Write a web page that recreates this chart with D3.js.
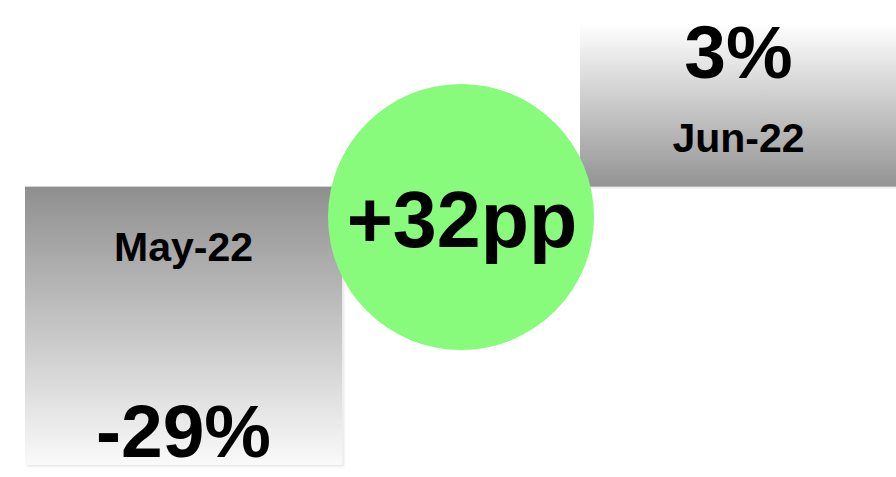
<!DOCTYPE html>
<html>
<head>
<meta charset="utf-8">
<script src="https://cdn.jsdelivr.net/npm/d3@7"></script>
<style>
  html, body { margin: 0; padding: 0; background: #ffffff; }
  svg { display: block; }
  text { font-family: "Liberation Sans", Arial, Helvetica, sans-serif; font-weight: bold; fill: #000; }
</style>
</head>
<body>
<svg id="chart" width="896" height="477"></svg>
<script>
// ---- data ----
const categories = ["May-22", "Jun-22"];
const values = [-29, 3];
const valueLabels = ["-29%", "3%"];
const deltaLabel = "+32pp";
const pivotValue = -8.8; // level where the two bars meet

const W = 896, H = 477;
const svg = d3.select("#chart");
const defs = svg.append("defs");

const x = d3.scaleBand().domain(categories).range([25, 897]).paddingInner(0.4288).paddingOuter(0);
const y = d3.scaleLinear().domain([-29, 3]).range([465, 24]);

// gradients
const gDown = defs.append("linearGradient").attr("id", "gDown").attr("x1", 0).attr("y1", 0).attr("x2", 0).attr("y2", 1);
gDown.append("stop").attr("offset", "0%").attr("stop-color", "#8f8f8f");
gDown.append("stop").attr("offset", "100%").attr("stop-color", "#fafafa");
const gUp = defs.append("linearGradient").attr("id", "gUp").attr("x1", 0).attr("y1", 0).attr("x2", 0).attr("y2", 1);
gUp.append("stop").attr("offset", "0%").attr("stop-color", "#ffffff");
gUp.append("stop").attr("offset", "100%").attr("stop-color", "#939393");

const shadow = defs.append("filter").attr("id", "sh").attr("x", "-5%").attr("y", "-5%").attr("width", "115%").attr("height", "115%");
shadow.append("feDropShadow").attr("dx", 2).attr("dy", 1.5).attr("stdDeviation", 0.8)
  .attr("flood-color", "#000").attr("flood-opacity", 0.1);

const bars = categories.map((c, i) => ({ c, v: values[i], label: valueLabels[i] }));

svg.selectAll("rect.bar").data(bars).enter().append("rect")
  .attr("class", "bar")
  .attr("x", d => x(d.c))
  .attr("width", x.bandwidth())
  .attr("y", d => Math.min(y(d.v), y(pivotValue)))
  .attr("height", d => Math.abs(y(d.v) - y(pivotValue)))
  .attr("fill", d => d.v < 0 ? "url(#gDown)" : "url(#gUp)")
  .attr("filter", "url(#sh)");

// category labels
svg.selectAll("text.cat").data(bars).enter().append("text")
  .attr("class", "cat")
  .attr("x", d => x(d.c) + x.bandwidth() / 2)
  .attr("y", d => d.v < 0 ? y(pivotValue) + 74 : y(pivotValue) - 35)
  .attr("text-anchor", "middle")
  .attr("font-size", 41)
  .text(d => d.c);

// value labels
svg.selectAll("text.val").data(bars).enter().append("text")
  .attr("class", "val")
  .attr("x", d => x(d.c) + x.bandwidth() / 2)
  .attr("y", d => d.v < 0 ? y(d.v) - 8 : y(d.v) + 54)
  .attr("text-anchor", "middle")
  .attr("font-size", 75)
  .text(d => d.label);

// delta circle
const cx = (x(categories[0]) + x(categories[1]) + x.bandwidth()) / 2;
const cy = 217;
svg.append("circle").attr("cx", cx).attr("cy", cy).attr("r", 133).attr("fill", "#88fb7c");
svg.append("text")
  .attr("x", cx + 1)
  .attr("y", cy + 30)
  .attr("text-anchor", "middle")
  .attr("font-size", 79)
  .text(deltaLabel);
</script>
</body>
</html>
